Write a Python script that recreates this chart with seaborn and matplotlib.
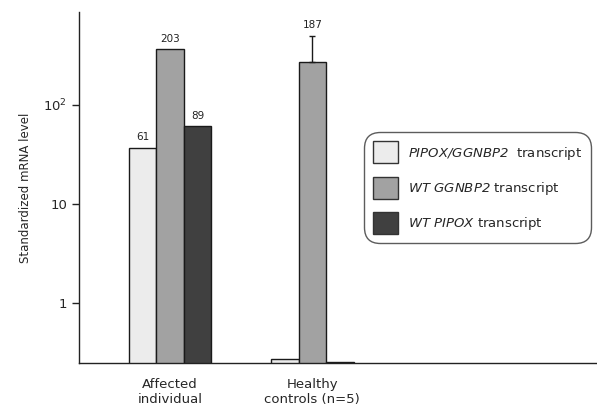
import numpy as np
import pandas as pd
import matplotlib
matplotlib.use("Agg")
import matplotlib.pyplot as plt
import matplotlib.patches as mpatches
import matplotlib.ticker as mticker
import seaborn as sns

# ── Data ─────────────────────────────────────────────────────────────────────
groups = ["Affected\nindividual", "Healthy\ncontrols (n=5)"]
transcripts = ["PIPOX/GGNBP2", "WT GGNBP2", "WT PIPOX"]
# bar heights as drawn (log axis), one list per transcript
fusion_vals = [37, 0.27]
ggnbp2_vals = [367, 275]
pipox_vals = [61, 0.25]
# upper error only, healthy controls WT GGNBP2
ggnbp2_err_up = [0, 229]
# printed value labels (None = no label)
fusion_labels = ["61", None]
ggnbp2_labels = ["203", "187"]
pipox_labels = ["89", None]

y_ticks = [1, 10, 100]
y_ticklabels = ["1", "10", r"10$^{\mathsf{2}}$"]

COLORS = ["#ececec", "#a2a2a2", "#404040"]
LEGEND_LABELS = [r"$\it{PIPOX/GGNBP2}$  transcript",
                 r"$\it{WT\ GGNBP2}$ transcript",
                 r"$\it{WT\ PIPOX}$ transcript"]

df = pd.DataFrame({
    "group": groups * 3,
    "transcript": np.repeat(transcripts, len(groups)),
    "value": fusion_vals + ggnbp2_vals + pipox_vals,
})

sns.set_style("white")
plt.rcParams["font.family"] = ["DejaVu Sans"]
# italic digits inside gene names: map math roman to italic too
plt.rcParams["mathtext.fontset"] = "custom"
plt.rcParams["mathtext.rm"] = "DejaVu Sans:italic"
plt.rcParams["mathtext.it"] = "DejaVu Sans:italic"
plt.rcParams["mathtext.sf"] = "DejaVu Sans"

fig = plt.figure(figsize=(5.97, 4.09), dpi=100)
ax = fig.add_axes([0.132, 0.113, 0.868, 0.858])

sns.barplot(data=df, x="group", y="value", hue="transcript",
            hue_order=transcripts, palette=COLORS, width=0.58,
            edgecolor="#1a1a1a", linewidth=1.0, saturation=1,
            errorbar=None, legend=False, ax=ax)

ax.set_yscale("log")
ax.set_ylim(0.247, 874)
ax.set_xlim(-0.64, 3.0)

# error bar on healthy WT GGNBP2
mid_bars = ax.containers[1]
for bar, e in zip(mid_bars, ggnbp2_err_up):
    if e > 0:
        xc = bar.get_x() + bar.get_width() / 2
        h = bar.get_height()
        ax.errorbar(xc, h, yerr=[[0], [e]], fmt="none", ecolor="#1a1a1a",
                    elinewidth=1.0, capsize=2, capthick=1.0)

# value labels
all_labels = [fusion_labels, ggnbp2_labels, pipox_labels]
all_err = [[0, 0], ggnbp2_err_up, [0, 0]]
for cont, labs, errs in zip(ax.containers, all_labels, all_err):
    for bar, lab, e in zip(cont, labs, errs):
        if lab is None:
            continue
        xc = bar.get_x() + bar.get_width() / 2
        top = bar.get_height() + e
        ax.annotate(lab, (xc, top), xytext=(0, 4), textcoords="offset points",
                    ha="center", va="bottom", fontsize=7.5, color="#222222")

ax.yaxis.set_major_locator(mticker.FixedLocator(y_ticks))
ax.yaxis.set_major_formatter(mticker.FixedFormatter(y_ticklabels))
ax.yaxis.set_minor_locator(mticker.NullLocator())
ax.tick_params(axis="y", which="major", direction="out", length=5, width=1,
               labelsize=9.5, left=True, color="#222222")
ax.tick_params(axis="x", length=0, labelsize=9.5, pad=11)
ax.set_xlabel("")
ax.set_ylabel("Standardized mRNA level", fontsize=8.5, labelpad=8)

for s in ["top", "right"]:
    ax.spines[s].set_visible(False)
for s in ["left", "bottom"]:
    ax.spines[s].set_color("#222222")
    ax.spines[s].set_linewidth(1.0)

handles = [mpatches.Patch(facecolor=c, edgecolor="#333333", linewidth=1.0)
           for c in COLORS]
leg = ax.legend(handles, LEGEND_LABELS, loc="upper left",
                bbox_to_anchor=(0.61, 0.677), bbox_transform=fig.transFigure,
                fontsize=9.5, handlelength=1.9, handleheight=2.2,
                labelspacing=1.0, fancybox=True, frameon=True,
                borderpad=0.7, handletextpad=0.7, borderaxespad=0)
frame = leg.get_frame()
frame.set_edgecolor("#333333")
frame.set_linewidth(1.0)
frame.set_boxstyle("round", pad=0, rounding_size=1.2)

fig.savefig("out.png", dpi=100)
